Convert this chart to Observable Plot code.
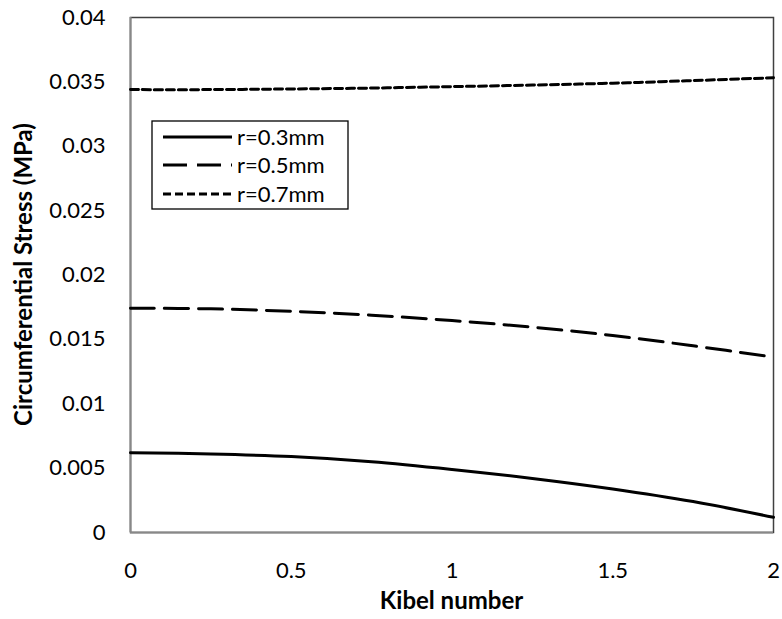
<!DOCTYPE html>
<html>
<head>
<meta charset="utf-8">
<script src="https://cdn.jsdelivr.net/npm/d3@7"></script>
<script src="https://cdn.jsdelivr.net/npm/@observablehq/plot@0.6"></script>
<style>
  html, body { margin: 0; padding: 0; background: #fff; }
  #chart { width: 782px; height: 619px; }
</style>
</head>
<body>
<div id="chart"></div>
<script>
// Kibel number values (x)
const kibel = [0, 0.25, 0.5, 0.75, 1.0, 1.25, 1.5, 1.75, 2.0];
// Circumferential stress (MPa) per radius
const stress03 = [0.0062, 0.0061, 0.0059, 0.0055, 0.0049, 0.0042, 0.00338, 0.0024, 0.00118];
const stress05 = [0.01742, 0.01737, 0.01718, 0.01688, 0.01646, 0.01595, 0.0153, 0.0145, 0.01362];
const stress07 = [0.0344, 0.0344, 0.03445, 0.03452, 0.03463, 0.03475, 0.0349, 0.0351, 0.03532];
const seriesNames = ["r=0.3mm", "r=0.5mm", "r=0.7mm"];
const xTicks = [0, 0.5, 1, 1.5, 2];
const yTicks = [0, 0.005, 0.01, 0.015, 0.02, 0.025, 0.03, 0.035, 0.04];

const allSeries = [stress03, stress05, stress07];
const dashes = [null, "24,10", "8,4"];
const rows = [];
allSeries.forEach((vals, s) => vals.forEach((v, i) => rows.push({k: kibel[i], v, s: seriesNames[s]})));

const FONT = "Lato, 'Open Sans', sans-serif";
const FS = 22;
const TFS = 24;

const marks = [
  Plot.frame({stroke: "#404040", strokeWidth: 1.5}),
  Plot.ruleX([0], {stroke: "#888888", strokeWidth: 2}),
  Plot.ruleY([0], {stroke: "#888888", strokeWidth: 2})
];
seriesNames.forEach((name, s) => {
  marks.push(Plot.line(rows.filter(d => d.s === name), {
    x: "k", y: "v", stroke: "#000", strokeWidth: 3,
    strokeDasharray: dashes[s], curve: "catmull-rom"
  }));
});
marks.push(Plot.axisX({ticks: xTicks, tickSize: 0, tickPadding: 30, tickFormat: d => String(d), fontSize: FS, label: null}));
marks.push(Plot.axisY({ticks: yTicks, tickSize: 0, tickPadding: 25, tickFormat: d => String(+d.toFixed(3)), fontSize: FS, label: null}));

const plot = Plot.plot({
  width: 782,
  height: 619,
  marginLeft: 130,
  marginRight: 9,
  marginTop: 17,
  marginBottom: 87,
  style: {fontFamily: FONT, fontSize: FS + "px", color: "#000", background: "#fff"},
  x: {domain: [0, 2]},
  y: {domain: [0, 0.04]},
  marks
});
document.getElementById("chart").appendChild(plot);

const svg = d3.select(plot);
// Axis titles
svg.append("text")
  .attr("x", 451.5).attr("y", 609)
  .attr("text-anchor", "middle")
  .attr("font-family", FONT).attr("font-size", TFS).attr("font-weight", "bold")
  .attr("fill", "#000")
  .text("Kibel number");
svg.append("text")
  .attr("transform", "translate(23,274.5) rotate(-90)")
  .attr("text-anchor", "middle").attr("dy", "0.36em")
  .attr("font-family", FONT).attr("font-size", TFS).attr("font-weight", "bold")
  .attr("fill", "#000")
  .text("Circumferential Stress (MPa)");

// Legend box
const lg = svg.append("g");
lg.append("rect").attr("x", 152).attr("y", 121).attr("width", 196).attr("height", 88)
  .attr("fill", "#fff").attr("stroke", "#000").attr("stroke-width", 1.3);
const rowY = [137, 165, 194];
seriesNames.forEach((name, s) => {
  lg.append("line").attr("x1", 163).attr("x2", 232).attr("y1", rowY[s]).attr("y2", rowY[s])
    .attr("stroke", "#000").attr("stroke-width", 3)
    .attr("stroke-dasharray", dashes[s] || null);
  lg.append("text").attr("x", 237).attr("y", rowY[s]).attr("dy", "0.36em")
    .attr("text-anchor", "start")
    .attr("font-family", FONT).attr("font-size", FS).attr("fill", "#000")
    .text(name);
});
</script>
</body>
</html>
